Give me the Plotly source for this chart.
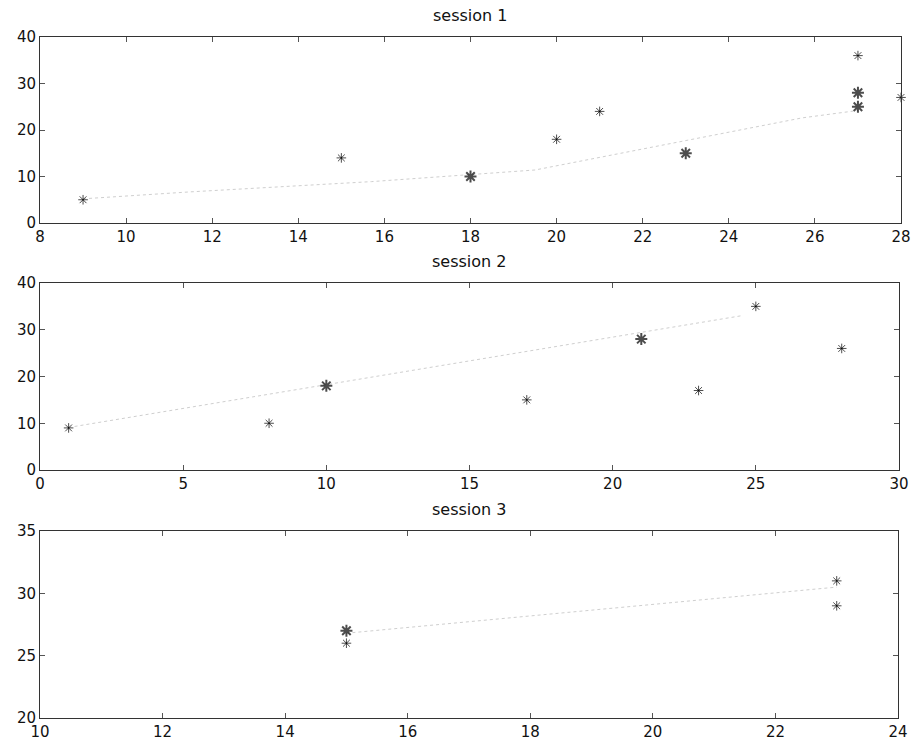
import plotly.graph_objects as go

# ---- data ----
s1_x = [9, 15, 18, 20, 21, 23, 27, 27, 27, 28]
s1_y = [5, 14, 10, 18, 24, 15, 36, 28, 25, 27]
s1_n = [1, 1, 2, 1, 1, 2, 1, 2, 2, 1]
s1_fit_x = [9, 11.5, 15.7, 19.5, 25.7, 27]
s1_fit_y = [5.2, 6.7, 8.9, 11.4, 22.6, 24.2]

s2_x = [1, 8, 10, 17, 21, 23, 25, 28]
s2_y = [9, 10, 18, 15, 28, 17, 35, 26]
s2_n = [1, 1, 2, 1, 2, 1, 1, 1]
s2_fit_x = [1, 24.5]
s2_fit_y = [9.1, 33.0]

s3_x = [15, 15, 23, 23]
s3_y = [27, 26, 31, 29]
s3_n = [2, 1, 1, 1]
s3_fit_x = [15, 23]
s3_fit_y = [26.8, 30.5]

titles = ["session 1", "session 2", "session 3"]
x_ranges = [[8, 28], [0, 30], [10, 24]]
x_dticks = [2, 5, 2]
y_ranges = [[0, 40], [0, 40], [20, 35]]
y_dticks = [10, 10, 5]

panels = [
    (s1_x, s1_y, s1_n, s1_fit_x, s1_fit_y),
    (s2_x, s2_y, s2_n, s2_fit_x, s2_fit_y),
    (s3_x, s3_y, s3_n, s3_fit_x, s3_fit_y),
]

W, H = 913, 745
ml, mr, mt, mb = 40, 12, 37, 27
ph = H - mt - mb
pw = W - ml - mr
tops = [37, 283, 531]
bots = [223, 470, 718]
rights = [901, 899, 898]

fig = go.Figure()
font = dict(family="DejaVu Sans, Arial, sans-serif", size=15, color="#111")
title_font = dict(family="DejaVu Sans, Arial, sans-serif", size=16, color="#111")

for i, (xs, ys, ns, fx, fy) in enumerate(panels):
    k = "" if i == 0 else str(i + 1)
    xa, ya = "x" + k, "y" + k
    fig.add_trace(go.Scatter(
        x=fx, y=fy, mode="lines", xaxis=xa, yaxis=ya,
        line=dict(color="#cfcfcf", width=1, dash="dot"),
        showlegend=False, hoverinfo="skip"))
    fig.add_trace(go.Scatter(
        x=xs, y=ys, mode="markers", xaxis=xa, yaxis=ya,
        marker=dict(symbol="asterisk-open", size=[8 if n == 1 else 10 for n in ns],
                    color="#000",
                    line=dict(color="#000", width=[1 if n == 1 else 2 for n in ns])),
        cliponaxis=False, showlegend=False))
    yd = [(H - mb - bots[i]) / ph, (H - mb - tops[i]) / ph]
    xd = [0, (rights[i] - ml) / pw]
    axis_common = dict(showline=True, linecolor="#333", linewidth=1, mirror="allticks",
                       ticks="inside", ticklen=5, tickcolor="#555", showgrid=False,
                       zeroline=False, tickfont=font, automargin=False)
    fig.layout["xaxis" + k] = dict(domain=xd, range=x_ranges[i], dtick=x_dticks[i],
                                   tick0=x_ranges[i][0], anchor=ya, ticklabelstandoff=0,
                                   **axis_common)
    fig.layout["yaxis" + k] = dict(domain=yd, range=y_ranges[i], dtick=y_dticks[i],
                                   tick0=y_ranges[i][0], anchor=xa, **axis_common)
    fig.add_annotation(text=titles[i], xref="paper", yref="paper",
                       x=sum(xd) / 2, y=yd[1], xanchor="center", yanchor="bottom",
                       yshift=10, showarrow=False, font=title_font)

fig.update_layout(width=W, height=H, margin=dict(l=ml, r=mr, t=mt, b=mb, autoexpand=False),
                  plot_bgcolor="white", paper_bgcolor="white")

fig.write_html("out.html", config={"displayModeBar": False},
               post_script="document.body.style.margin='0';document.body.style.overflow='hidden';")
